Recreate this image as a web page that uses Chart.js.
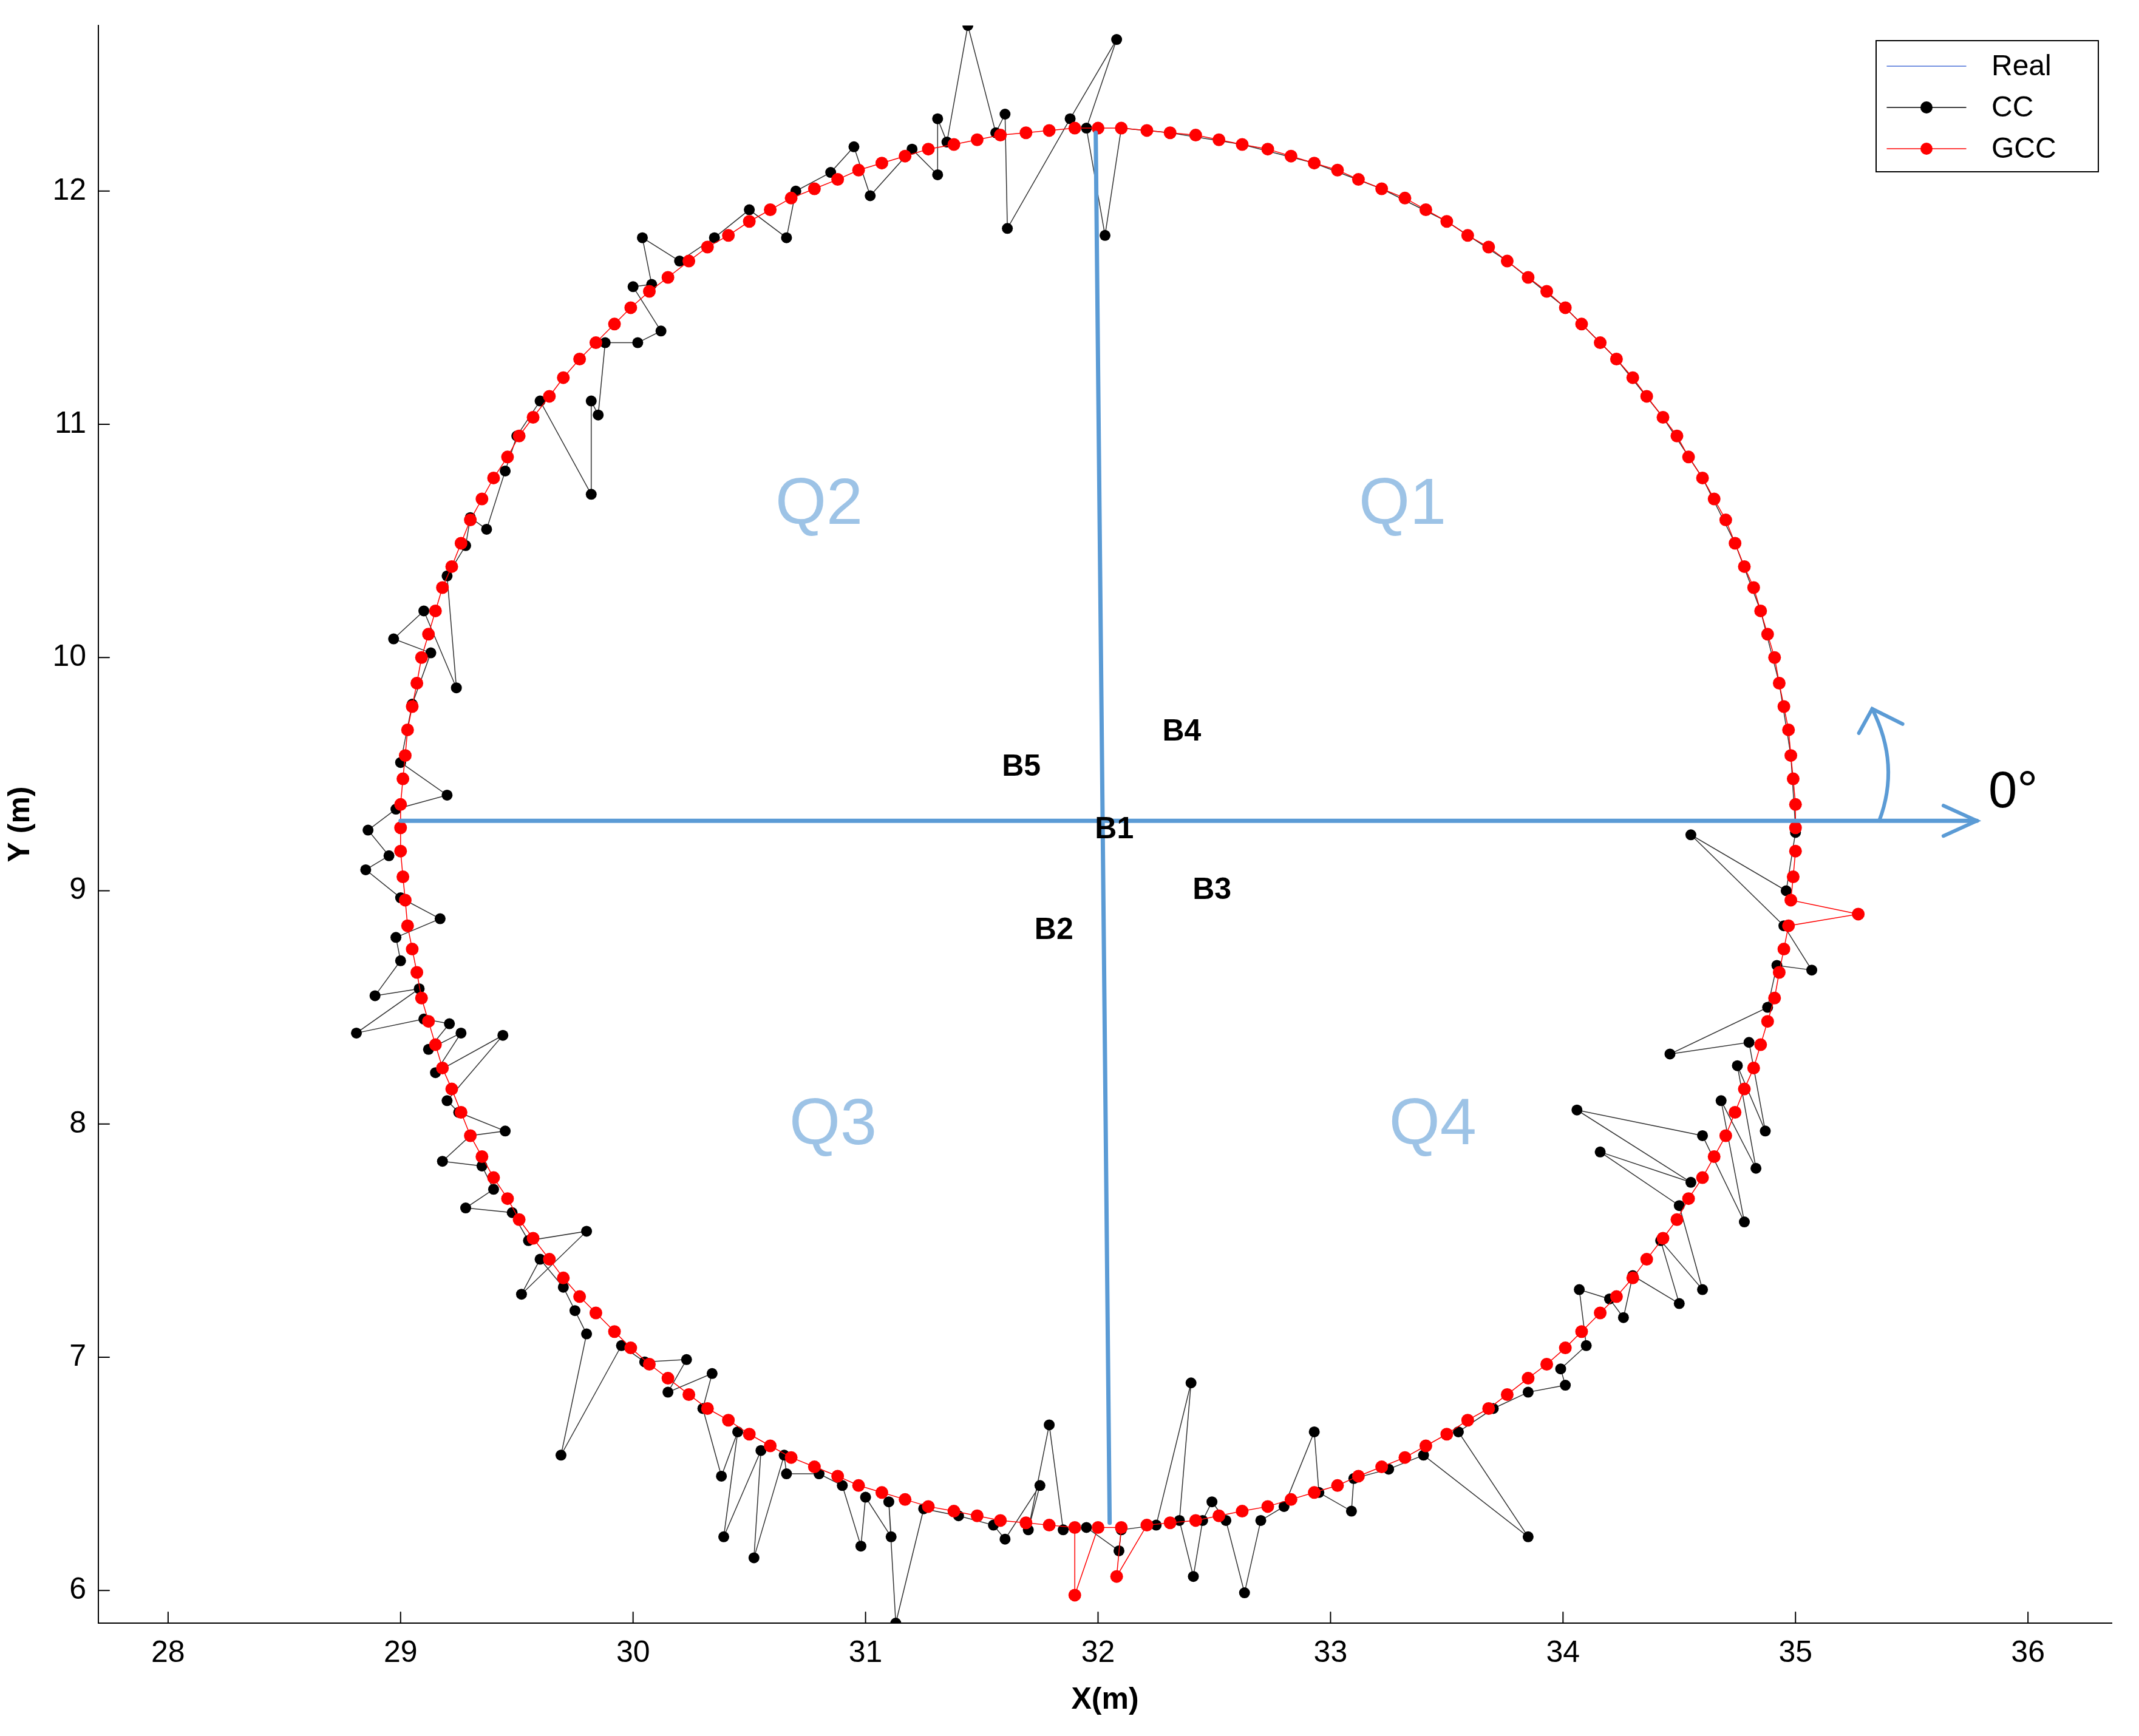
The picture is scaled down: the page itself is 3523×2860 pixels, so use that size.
<!DOCTYPE html>
<html><head><meta charset="utf-8">
<script src="https://cdn.jsdelivr.net/npm/chart.js@4/dist/chart.umd.min.js"></script>
<style>html,body{margin:0;padding:0;background:#fff}#c{display:block}</style>
</head><body>
<canvas id="c" width="3523" height="2860"></canvas>
<script>
const xTicks=[28,29,30,31,32,33,34,35,36];
const yTicks=[6,7,8,9,10,11,12];
const gcc=[[35.00,9.27],[35.00,9.37],[34.99,9.48],[34.98,9.58],[34.97,9.69],[34.95,9.79],[34.93,9.89],[34.91,10.00],[34.88,10.10],[34.85,10.20],[34.82,10.30],[34.78,10.39],[34.74,10.49],[34.70,10.59],[34.65,10.68],[34.60,10.77],[34.54,10.86],[34.49,10.95],[34.43,11.03],[34.36,11.12],[34.30,11.20],[34.23,11.28],[34.16,11.35],[34.08,11.43],[34.01,11.50],[33.93,11.57],[33.85,11.63],[33.76,11.70],[33.68,11.76],[33.59,11.81],[33.50,11.87],[33.41,11.92],[33.32,11.97],[33.22,12.01],[33.12,12.05],[33.03,12.09],[32.93,12.12],[32.83,12.15],[32.73,12.18],[32.62,12.20],[32.52,12.22],[32.42,12.24],[32.31,12.25],[32.21,12.26],[32.10,12.27],[32.00,12.27],
[31.90,12.27],[31.79,12.26],[31.69,12.25],[31.58,12.24],[31.48,12.22],[31.38,12.20],[31.27,12.18],[31.17,12.15],[31.07,12.12],[30.97,12.09],[30.88,12.05],[30.78,12.01],[30.68,11.97],[30.59,11.92],[30.50,11.87],[30.41,11.81],[30.32,11.76],[30.24,11.70],[30.15,11.63],[30.07,11.57],[29.99,11.50],[29.92,11.43],[29.84,11.35],[29.77,11.28],[29.70,11.20],[29.64,11.12],[29.57,11.03],[29.51,10.95],[29.46,10.86],[29.40,10.77],[29.35,10.68],[29.30,10.59],[29.26,10.49],[29.22,10.39],[29.18,10.30],[29.15,10.20],[29.12,10.10],[29.09,10.00],[29.07,9.89],[29.05,9.79],[29.03,9.69],[29.02,9.58],[29.01,9.48],[29.00,9.37],[29.00,9.27],
[29.00,9.17],[29.01,9.06],[29.02,8.96],[29.03,8.85],[29.05,8.75],[29.07,8.65],[29.09,8.54],[29.12,8.44],[29.15,8.34],[29.18,8.24],[29.22,8.15],[29.26,8.05],[29.30,7.95],[29.35,7.86],[29.40,7.77],[29.46,7.68],[29.51,7.59],[29.57,7.51],[29.64,7.42],[29.70,7.34],[29.77,7.26],[29.84,7.19],[29.92,7.11],[29.99,7.04],[30.07,6.97],[30.15,6.91],[30.24,6.84],[30.32,6.78],[30.41,6.73],[30.50,6.67],[30.59,6.62],[30.68,6.57],[30.78,6.53],[30.88,6.49],[30.97,6.45],[31.07,6.42],[31.17,6.39],[31.27,6.36],[31.38,6.34],[31.48,6.32],[31.58,6.30],[31.69,6.29],[31.79,6.28],[31.90,6.27],[31.90,5.98],[32.00,6.27],[32.10,6.27],[32.08,6.06],
[32.21,6.28],[32.31,6.29],[32.42,6.30],[32.52,6.32],[32.62,6.34],[32.73,6.36],[32.83,6.39],[32.93,6.42],[33.03,6.45],[33.12,6.49],[33.22,6.53],[33.32,6.57],[33.41,6.62],[33.50,6.67],[33.59,6.73],[33.68,6.78],[33.76,6.84],[33.85,6.91],[33.93,6.97],[34.01,7.04],[34.08,7.11],[34.16,7.19],[34.23,7.26],[34.30,7.34],[34.36,7.42],[34.43,7.51],[34.49,7.59],[34.54,7.68],[34.60,7.77],[34.65,7.86],[34.70,7.95],[34.74,8.05],[34.78,8.15],[34.82,8.24],[34.85,8.34],[34.88,8.44],[34.91,8.54],[34.93,8.65],[34.95,8.75],[34.97,8.85],[35.27,8.90],[34.98,8.96],[34.99,9.06],[35.00,9.17]];
const cc=[[35.00,9.27],[34.98,9.58],[34.93,9.89],[34.85,10.20],[34.74,10.49],[34.60,10.77],[34.43,11.03],[34.23,11.28],[34.01,11.50],[33.76,11.70],[33.50,11.87],[33.22,12.01],[32.93,12.12],[32.62,12.20],[32.31,12.25],[32.10,12.27],
[32.03,11.81],[31.95,12.27],[32.08,12.65],[31.88,12.31],[31.61,11.84],[31.60,12.33],[31.56,12.25],[31.44,12.71],[31.35,12.21],[31.31,12.31],[31.31,12.07],[31.20,12.18],[31.02,11.98],[30.95,12.19],[30.85,12.08],[30.70,12.00],[30.66,11.80],[30.50,11.92],[30.35,11.80],[30.20,11.70],[30.04,11.80],[30.08,11.60],[30.00,11.59],[30.12,11.40],[30.02,11.35],[29.88,11.35],[29.85,11.04],[29.82,11.10],[29.82,10.70],[29.60,11.10],[29.50,10.95],[29.45,10.80],[29.37,10.55],[29.30,10.60],[29.28,10.48],[29.20,10.35],[29.24,9.87],[29.10,10.20],[28.97,10.08],[29.13,10.02],[29.05,9.80],[29.00,9.55],[29.20,9.41],[28.98,9.35],[28.86,9.26],[28.95,9.15],[28.85,9.09],[29.00,8.97],[29.17,8.88],[28.98,8.80],[29.00,8.70],[28.89,8.55],[29.08,8.58],[28.81,8.39],[29.10,8.45],[29.21,8.43],[29.12,8.32],[29.26,8.39],[29.15,8.22],[29.44,8.38],[29.20,8.10],[29.25,8.05],[29.45,7.97],[29.30,7.95],[29.18,7.84],[29.35,7.82],[29.40,7.72],[29.28,7.64],[29.48,7.62],[29.55,7.50],[29.80,7.54],[29.52,7.27],[29.60,7.42],[29.70,7.30],[29.75,7.20],[29.80,7.10],[29.69,6.58],[29.95,7.05],[30.05,6.98],[30.23,6.99],[30.15,6.85],[30.34,6.93],[30.30,6.78],[30.38,6.49],[30.45,6.68],[30.39,6.23],[30.55,6.60],[30.52,6.14],[30.65,6.58],[30.66,6.50],[30.80,6.50],[30.90,6.45],[30.98,6.19],[31.00,6.40],[31.11,6.23],[31.10,6.38],[31.13,5.86],[31.25,6.35],[31.40,6.32],[31.55,6.28],[31.60,6.22],[31.75,6.45],[31.70,6.26],[31.79,6.71],[31.85,6.26],[31.95,6.27],[32.09,6.17],[32.10,6.26],[32.25,6.28],[32.40,6.89],[32.35,6.30],[32.41,6.06],[32.45,6.30],[32.49,6.38],[32.55,6.30],[32.63,5.99],[32.70,6.30],[32.80,6.36],[32.93,6.68],[32.95,6.42],[33.09,6.34],[33.10,6.48],[33.25,6.52],[33.40,6.58],[33.85,6.23],[33.55,6.68],[33.70,6.78],[33.85,6.85],[34.01,6.88],[33.99,6.95],[34.10,7.05],[34.07,7.29],[34.20,7.25],[34.26,7.17],[34.30,7.35],[34.50,7.23],[34.42,7.50],[34.60,7.29],[34.50,7.65],[34.16,7.88],[34.55,7.75],[34.06,8.06],[34.60,7.95],[34.78,7.58],[34.68,8.10],[34.83,7.81],[34.75,8.25],[34.87,7.97],[34.80,8.35],[34.46,8.30],[34.88,8.50],[34.92,8.68],[35.07,8.66],[34.95,8.85],[34.55,9.24],[34.96,9.00],[35.00,9.25],[35.00,9.27]];
const realLine=[[32.05,6.29],[31.99,12.25]];
const axisLine=[[29.0,9.3],[35.78,9.3]];
const quadLabels=[["Q1",33.31,10.65],["Q2",30.80,10.65],["Q3",30.86,7.99],["Q4",33.44,7.99]];
const beaconLabels=[["B1",32.07,9.26],["B2",31.81,8.83],["B3",32.49,9.00],["B4",32.36,9.68],["B5",31.67,9.53]];
const blue='#5b9bd5';
const toXY=a=>a.map(p=>({x:p[0],y:p[1]}));
const overlay={id:'overlay',
 beforeDatasetsDraw(ch){
  const {ctx,scales:{x,y}}=ch;
  const X=v=>x.getPixelForValue(v),Y=v=>y.getPixelForValue(v);
  ctx.save();
  ctx.font='108px "Liberation Sans"';ctx.fillStyle='#9dc3e6';ctx.textAlign='center';ctx.textBaseline='middle';
  quadLabels.forEach(q=>ctx.fillText(q[0],X(q[1]),Y(q[2])));
  ctx.restore();
 },
 afterDatasetsDraw(ch){
  const {ctx,scales:{x,y}}=ch;
  const X=v=>x.getPixelForValue(v),Y=v=>y.getPixelForValue(v);
  ctx.save();
  ctx.strokeStyle=blue;ctx.lineWidth=7;ctx.lineCap='round';
  ctx.beginPath();ctx.moveTo(X(realLine[0][0]),Y(realLine[0][1]));ctx.lineTo(X(realLine[1][0]),Y(realLine[1][1]));ctx.stroke();
  const ax=X(axisLine[1][0]),ay=Y(axisLine[1][1]);
  ctx.beginPath();ctx.moveTo(X(axisLine[0][0]),ay);ctx.lineTo(ax,ay);ctx.stroke();
  ctx.lineWidth=6;
  ctx.beginPath();ctx.moveTo(ax-55,ay-25);ctx.lineTo(ax,ay);ctx.lineTo(ax-55,ay+25);ctx.stroke();
  const sx=X(35.36),sy=ay,ex=X(35.33),ey=Y(9.78);
  ctx.beginPath();ctx.moveTo(sx,sy);ctx.quadraticCurveTo(sx+35,(sy+ey)/2,ex,ey);ctx.stroke();
  ctx.beginPath();ctx.moveTo(ex-22,ey+40);ctx.lineTo(ex,ey);ctx.lineTo(ex+50,ey+25);ctx.stroke();
  ctx.fillStyle='#000';ctx.font='85px "Liberation Sans"';ctx.textAlign='left';ctx.textBaseline='middle';
  ctx.fillText('0°',X(35.83),Y(9.42));
  ctx.font='bold 50px "Liberation Sans"';ctx.textAlign='center';
  beaconLabels.forEach(b=>ctx.fillText(b[0],X(b[1]),Y(b[2])));
  ctx.strokeStyle='#000';ctx.lineWidth=2;
  xTicks.forEach(t=>{ctx.beginPath();ctx.moveTo(X(t),y.bottom);ctx.lineTo(X(t),y.bottom-18);ctx.stroke();});
  yTicks.forEach(t=>{ctx.beginPath();ctx.moveTo(x.left,Y(t));ctx.lineTo(x.left+18,Y(t));ctx.stroke();});
  const L=3090,T=67,W=366,H=216;
  ctx.fillStyle='#fff';ctx.fillRect(L,T,W,H);ctx.strokeStyle='#000';ctx.lineWidth=2;ctx.strokeRect(L,T,W,H);
  const items=[['Real','#4a6fd8',false],['CC','#000',true],['GCC','#ff0000',true]];
  ctx.font='48px "Liberation Sans"';ctx.textAlign='left';
  items.forEach((it,i)=>{const cy=T+42+i*68;
   ctx.strokeStyle=it[1];ctx.lineWidth=1.5;ctx.beginPath();ctx.moveTo(L+18,cy);ctx.lineTo(L+148,cy);ctx.stroke();
   if(it[2]){ctx.fillStyle=it[1];ctx.beginPath();ctx.arc(L+83,cy,10,0,Math.PI*2);ctx.fill();}
   ctx.fillStyle='#000';ctx.fillText(it[0],L+190,cy+2);});
  ctx.restore();
 }};
new Chart(document.getElementById('c'),{
 type:'scatter',
 data:{datasets:[
  {label:'Real',data:[],borderColor:'#4a6fd8',showLine:true,order:2},
  {label:'CC',data:toXY(cc),order:1,showLine:true,borderColor:'#333',borderWidth:1.5,backgroundColor:'#000',pointBorderColor:'#000',pointRadius:9,pointBorderWidth:0},
  {label:'GCC',data:toXY(gcc),order:0,showLine:true,borderColor:'#ff0000',borderWidth:1.5,backgroundColor:'#ff0000',pointBorderColor:'#ff0000',pointRadius:10.5,pointBorderWidth:0}
 ]},
 options:{responsive:false,animation:false,devicePixelRatio:1,
  layout:{padding:{top:40,right:45,left:0,bottom:25}},
  plugins:{legend:{display:false},tooltip:{enabled:false}},
  scales:{
   x:{min:27.7,max:36.36,afterBuildTicks:a=>{a.ticks=xTicks.map(v=>({value:v}));},
      grid:{display:false},border:{display:true,color:'#000',width:2},
      ticks:{color:'#000',font:{family:'Liberation Sans',size:50},padding:12},
      title:{display:true,text:'X(m)',color:'#000',font:{family:'Liberation Sans',size:50,weight:'bold'},padding:{top:0}},
      afterFit:s=>{s.height=161;}},
   y:{min:5.86,max:12.71,afterBuildTicks:a=>{a.ticks=yTicks.map(v=>({value:v}));},
      grid:{display:false},border:{display:true,color:'#000',width:2},
      ticks:{color:'#000',font:{family:'Liberation Sans',size:50},padding:12},
      title:{display:true,text:'Y (m)',color:'#000',font:{family:'Liberation Sans',size:50,weight:'bold'},padding:{bottom:0}},
      afterFit:s=>{s.width=162;}}
  }},
 plugins:[overlay]
});
</script>
</body></html>
